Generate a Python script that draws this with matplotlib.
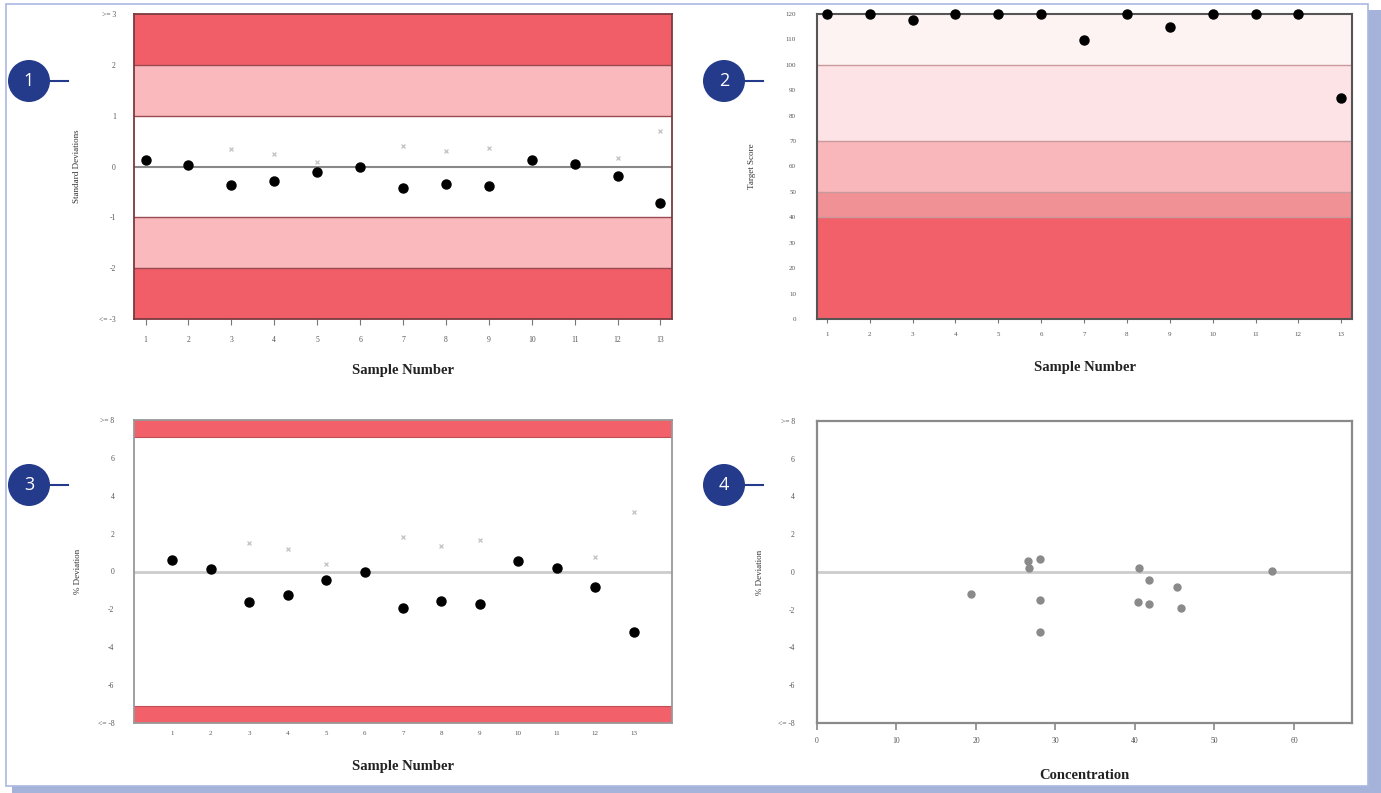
import numpy as np
import matplotlib
matplotlib.use("Agg")
import matplotlib.pyplot as plt
from matplotlib.patches import Rectangle, Ellipse
from matplotlib.lines import Line2D

# ---------------- data ----------------
samples = list(range(1, 14))
sample_labels = [str(s) for s in samples]

# Panel 1: standard deviations
std_dev = [0.13, 0.02, -0.37, -0.28, -0.10, 0.00, -0.43, -0.35, -0.38, 0.12, 0.05, -0.19, -0.71]
std_dev_ref = [np.nan, np.nan, 0.35, 0.25, 0.08, np.nan, 0.40, 0.31, 0.36, np.nan, np.nan, 0.16, 0.69]
std_ticks = [3, 2, 1, 0, -1, -2, -3]
std_tick_labels = [">= 3", "2", "1", "0", "-1", "-2", "<= -3"]
std_bands = [(2, 3, "#f25e68"), (1, 2, "#f9b9bd"), (-2, -1, "#f9b9bd"), (-3, -2, "#f25e68")]

# Panel 2: target score
target_score = [120, 120, 117.8, 120, 120, 120, 109.8, 120, 114.9, 120, 120, 120, 86.8]
score_ticks = [0, 10, 20, 30, 40, 50, 60, 70, 80, 90, 100, 110, 120]
score_bands = [(0, 40, "#f2606a"), (40, 50, "#f09195"), (50, 70, "#fab7bb"),
               (70, 100, "#fde3e5"), (100, 120, "#fef3f3")]

# Panel 3: % deviation
pct_dev = [0.62, 0.12, -1.63, -1.22, -0.44, 0.00, -1.93, -1.54, -1.70, 0.55, 0.19, -0.83, -3.19]
pct_dev_ref = [np.nan, np.nan, 1.52, 1.17, 0.41, np.nan, 1.82, 1.36, 1.65, np.nan, np.nan, 0.76, 3.12]
pct_ticks = [8, 6, 4, 2, 0, -2, -4, -6, -8]
pct_tick_labels = [">= 8", "6", "4", "2", "0", "-2", "-4", "-6", "<= -8"]
pct_bands = [(7.1, 8, "#f2606a"), (-8, -7.1, "#f2606a")]

# Panel 4: % deviation vs concentration
concentration = [19.4, 26.6, 26.7, 28.0, 28.0, 28.1, 40.5, 41.8, 40.4, 41.8, 45.3, 45.8, 57.2]
conc_dev = [-1.19, 0.58, 0.23, 0.67, -1.50, -3.17, 0.23, -0.42, -1.59, -1.68, -0.80, -1.89, 0.05]
conc_ticks = [0, 10, 20, 30, 40, 50, 60]

# ---------------- figure ----------------
W, H = 1381, 793
fig = plt.figure(figsize=(W / 100, H / 100), dpi=100)
fig.patch.set_facecolor("white")

serif = ["Liberation Serif", "DejaVu Serif"]
tick_color = "#555555"
navy = "#243a8b"


def px_axes(l, t, r, b):
    return fig.add_axes([l / W, 1 - b / H, (r - l) / W, (b - t) / H])


def fig_rect(x0, y0, x1, y1, **kw):
    r = Rectangle((x0 / W, 1 - y1 / H), (x1 - x0) / W, (y1 - y0) / H,
                  transform=fig.transFigure, **kw)
    fig.patches.append(r)


# outer frame with shadow
fig_rect(12, 10, 1381, 793, facecolor="#a5b3db", edgecolor="none", zorder=-3)
fig_rect(6, 4, 1368, 786, facecolor="white", edgecolor="#aab8e0", linewidth=1.2, zorder=-2)


def style_common(ax, frame_color="#555555", frame_lw=1.3):
    for s in ax.spines.values():
        s.set_color(frame_color)
        s.set_linewidth(frame_lw)
    for lab in ax.get_xticklabels() + ax.get_yticklabels():
        lab.set_fontfamily(serif)


def set_labels(ax, xlabel, ylabel, xl_y, yl_x):
    ax.set_xlabel(xlabel, fontsize=10.5, fontweight="bold", family=serif, color="#222222")
    ax.xaxis.set_label_coords(0.5, xl_y)
    ax.xaxis.label.set_verticalalignment("center")
    ax.set_ylabel(ylabel, fontsize=6.5, family=serif, color="#333333")
    ax.yaxis.set_label_coords(yl_x, 0.5)
    ax.yaxis.label.set_verticalalignment("center")


# ---------- Panel 1 ----------
ax1 = px_axes(134, 14, 672, 319)
ax1.set_xlim(0.73, 13.27)
ax1.set_ylim(-3, 3)
for lo, hi, c in std_bands:
    ax1.axhspan(lo, hi, color=c, lw=0, zorder=0)
for yv in [2, 1, -1, -2]:
    ax1.axhline(yv, color="#9a4a50", lw=1.0, zorder=1)
ax1.axhline(0, color="#888888", lw=1.5, zorder=1)
ax1.plot(samples, std_dev_ref, ls="none", marker="x", ms=3.5, mew=1.0, color="#c8c8c8", zorder=2)
ax1.plot(samples, std_dev, ls="none", marker="o", ms=6.5, color="black", zorder=3)
ax1.set_xticks(samples)
ax1.set_xticklabels(sample_labels)
ax1.set_yticks(std_ticks)
ax1.set_yticklabels(std_tick_labels)
ax1.tick_params(axis="x", length=4, color="#777777", pad=8, labelsize=5.5, labelcolor=tick_color)
ax1.tick_params(axis="y", length=0, pad=13, labelsize=5.5, labelcolor=tick_color)
style_common(ax1, "#7a3a40", 1.3)
set_labels(ax1, "Sample Number", "Standard Deviations", -0.17, -0.106)

# ---------- Panel 2 ----------
ax2 = px_axes(817, 14, 1352, 319)
ax2.set_xlim(0.77, 13.25)
ax2.set_ylim(0, 120)
for lo, hi, c in score_bands:
    ax2.axhspan(lo, hi, color=c, lw=0, zorder=0)
for yv in [100, 70, 50, 40]:
    ax2.axhline(yv, color="#c89a9e", lw=1.0, zorder=1)
ax2.plot(samples, target_score, ls="none", marker="o", ms=6.5, color="black", zorder=3, clip_on=False)
ax2.set_xticks(samples)
ax2.set_xticklabels(sample_labels)
ax2.set_yticks(score_ticks)
ax2.tick_params(axis="x", length=3, color="#777777", pad=6, labelsize=5.0, labelcolor=tick_color)
ax2.tick_params(axis="y", length=0, pad=15, labelsize=5.0, labelcolor=tick_color)
style_common(ax2, "#555555", 1.5)
set_labels(ax2, "Sample Number", "Target Score", -0.16, -0.121)

# ---------- Panel 3 ----------
ax3 = px_axes(134, 420, 672, 723)
ax3.set_xlim(0, 14)
ax3.set_ylim(-8, 8)
for lo, hi, c in pct_bands:
    ax3.axhspan(lo, hi, color=c, lw=0, zorder=0)
ax3.axhline(7.1, color="#c05058", lw=0.8, zorder=1)
ax3.axhline(-7.1, color="#c05058", lw=0.8, zorder=1)
ax3.axhline(0, color="#cccccc", lw=2.0, zorder=1)
ax3.plot(samples, pct_dev_ref, ls="none", marker="x", ms=3.5, mew=1.0, color="#c8c8c8", zorder=2)
ax3.plot(samples, pct_dev, ls="none", marker="o", ms=6.5, color="black", zorder=3)
ax3.set_xticks(samples)
ax3.set_xticklabels(sample_labels)
ax3.set_yticks(pct_ticks)
ax3.set_yticklabels(pct_tick_labels)
ax3.tick_params(axis="x", length=0, pad=6, labelsize=5.0, labelcolor=tick_color)
ax3.tick_params(axis="y", length=0, pad=14, labelsize=5.5, labelcolor=tick_color)
style_common(ax3, "#999999", 1.3)
set_labels(ax3, "Sample Number", "% Deviation", -0.142, -0.104)

# ---------- Panel 4 ----------
ax4 = px_axes(817, 421, 1352, 723)
ax4.set_xlim(0, 67.3)
ax4.set_ylim(-8, 8)
ax4.axhline(0, color="#cccccc", lw=2.0, zorder=1)
ax4.plot(concentration, conc_dev, ls="none", marker="o", ms=5, color="#8a8a8a", zorder=3)
ax4.set_xticks(conc_ticks)
ax4.set_yticks(pct_ticks)
ax4.set_yticklabels(pct_tick_labels)
ax4.tick_params(axis="x", length=5, color="#888888", width=1.2, pad=5, labelsize=5.5, labelcolor=tick_color)
ax4.tick_params(axis="y", length=0, pad=16, labelsize=5.5, labelcolor=tick_color)
style_common(ax4, "#8a8a8a", 1.6)
set_labels(ax4, "Concentration", "% Deviation", -0.175, -0.107)

# ---------- numbered badges ----------
badges = [("1", 29, 81), ("2", 724, 81), ("3", 29, 485), ("4", 724, 485)]
for num, cx, cy in badges:
    e = Ellipse((cx / W, 1 - cy / H), 42 / W, 42 / H, transform=fig.transFigure,
                facecolor=navy, edgecolor="none", zorder=5)
    fig.patches.append(e)
    fig.text(cx / W, 1 - cy / H, num, color="white", fontsize=13, family=["Open Sans", "DejaVu Sans"],
             ha="center", va="center", zorder=6)
    fig.lines.append(Line2D([(cx + 20) / W, (cx + 39) / W], [1 - cy / H, 1 - cy / H],
                            transform=fig.transFigure, color=navy, lw=1.5))

fig.savefig("out.png", dpi=100)
